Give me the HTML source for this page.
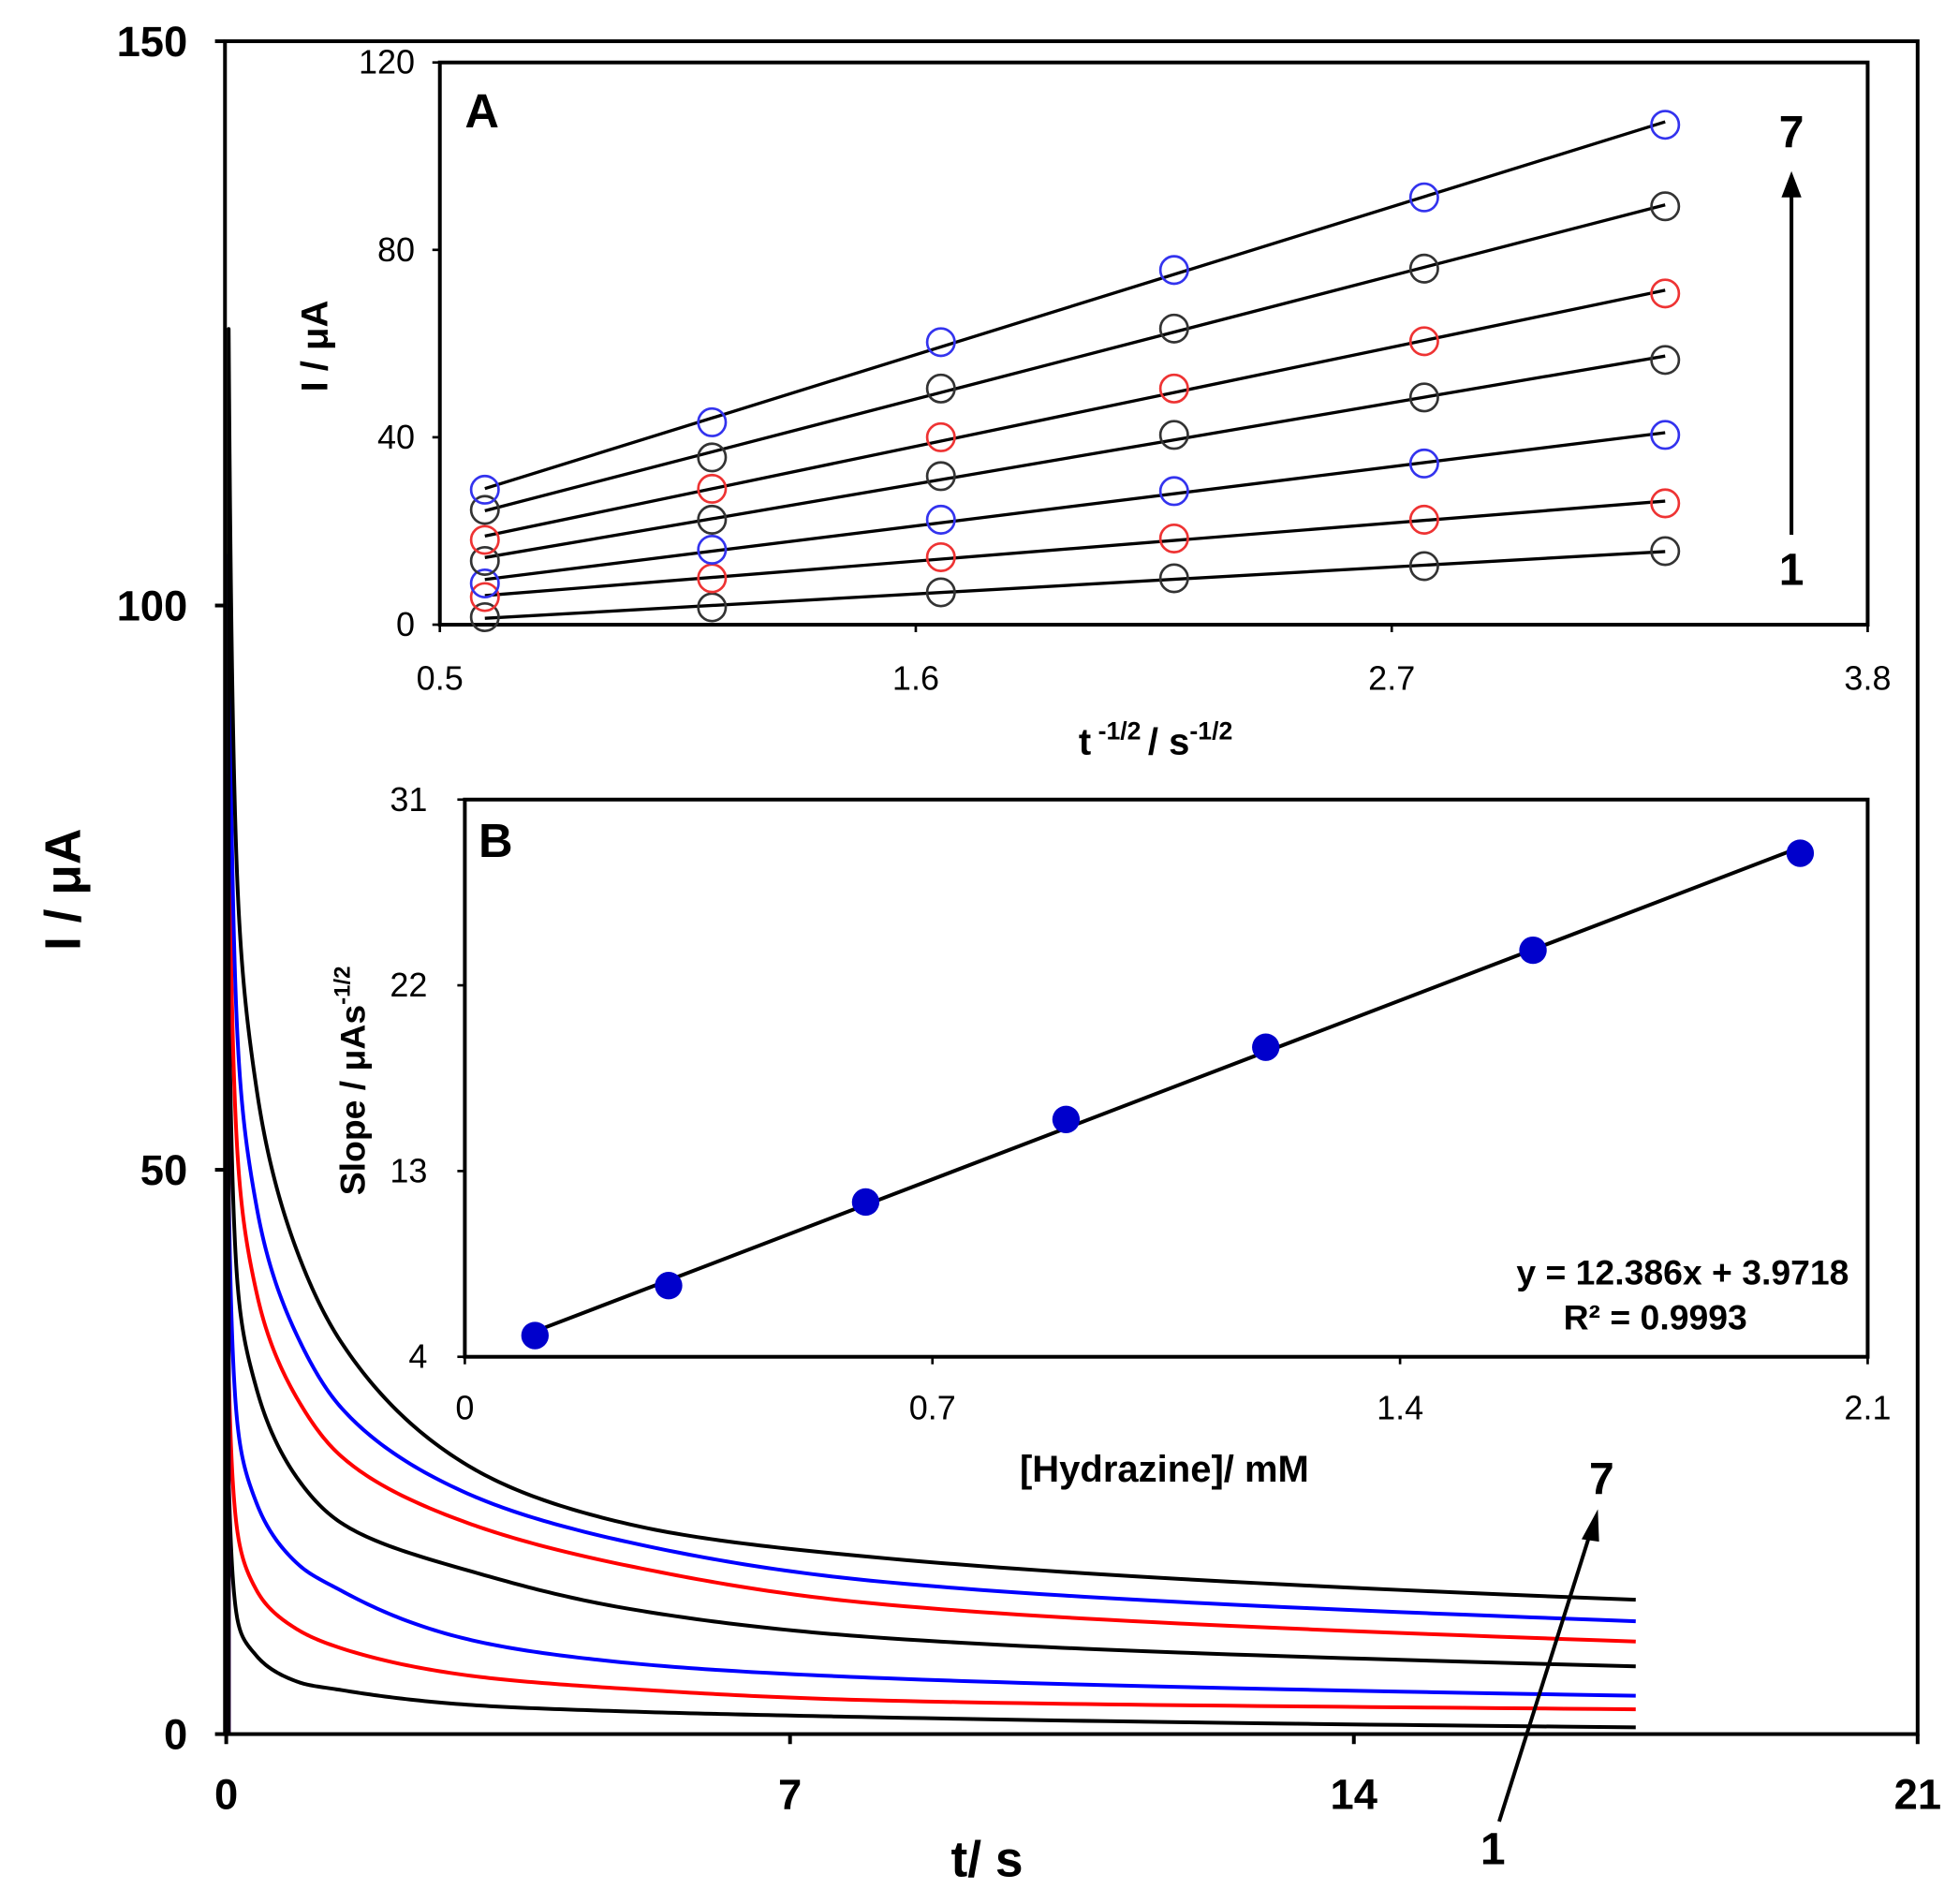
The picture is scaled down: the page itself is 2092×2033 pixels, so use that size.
<!DOCTYPE html>
<html><head><meta charset="utf-8"><style>
html,body{margin:0;padding:0;background:#fff;}
svg{display:block;font-family:"Liberation Sans",Arial,sans-serif;}
</style></head><body>
<svg id="chart" width="2092" height="2033" viewBox="0 0 1568 1524" xmlns="http://www.w3.org/2000/svg">
<rect width="1568" height="1524" fill="#fff"/>
<g id="main"></g>
<g id="insetA"></g>
<g id="insetB"></g>
</svg>
<script>
// ---- Main chart data ----
const mainTimes = [0.03,0.12,0.38,0.9,1.43,3,5,8,17.5];
const curve1 = [23,11,6.9,4.6,3.9,2.6,2.0,1.5,0.6];
const curve2 = [32.5,19,12.7,9.2,7.6,5.2,4.0,3.0,2.2];
const curve3 = [48.5,29,20.4,15,12.7,8.4,6.3,5.0,3.4];
const curve4 = [68,42,30.5,22.5,18.7,14.5,11.1,8.6,6];
const curve5 = [85,54,39,29.5,24.6,18.7,14.9,11.6,8.2];
const curve6 = [104.5,65,46.6,35,28.9,21.3,17,13.6,10];
const curve7 = [124.5,79,57,42.4,34.7,23.8,18.6,15.7,11.9];
const mainXTicks = [0,7,14,21];
const mainYTicks = [0,50,100,150];
// ---- Inset A data ----
const aX = [0.604,1.129,1.658,2.197,2.775,3.332];
const aS1 = [1.6,3.7,6.9,9.9,12.5,15.7];
const aS2 = [5.9,9.9,14.4,18.4,22.4,25.9];
const aS3 = [8.8,16,22.4,28.5,34.4,40.5];
const aS4 = [13.6,22.4,31.7,40.5,48.5,56.5];
const aS5 = [18.1,29,40,50.4,60.5,70.7];
const aS6 = [24.5,35.7,50.4,63.2,76,89.3];
const aS7 = [28.8,43.2,60.3,75.7,91.2,106.7];
const aXTicks = [0.5,1.6,2.7,3.8];
const aYTicks = [0,40,80,120];
// ---- Inset B data ----
const bX = [0.105,0.305,0.6,0.9,1.199,1.599,1.999];
const bY = [5.03,7.45,11.5,15.5,19,23.7,28.4];
const bXTicks = [0,0.7,1.4,2.1];
const bYTicks = [4,13,22,31];

const NS="http://www.w3.org/2000/svg";
function mk(parent,tag,attrs,text){const e=document.createElementNS(NS,tag);for(const k in attrs)e.setAttribute(k,attrs[k]);if(text!==undefined)e.textContent=text;parent.appendChild(e);return e;}
function fit(xs,ys){const n=xs.length;let sx=0,sy=0,sxx=0,sxy=0;for(let i=0;i<n;i++){sx+=xs[i];sy+=ys[i];sxx+=xs[i]*xs[i];sxy+=xs[i]*ys[i];}const m=(n*sxy-sx*sy)/(n*sxx-sx*sx);return [m,(sy-m*sx)/n];}
// Catmull-Rom interpolation in log(time) space, dense sampling
function densify(ts,vs){const L=ts.map(Math.log);const out=[];
  for(let i=0;i<L.length-1;i++){const i0=Math.max(0,i-1),i3=Math.min(L.length-1,i+2);
    const h=L[i+1]-L[i];
    const m1=(vs[i+1]-vs[i0])/(L[i+1]-L[i0])*h, m2=(vs[i3]-vs[i])/(L[i3]-L[i])*h;
    for(let s=0;s<30;s++){const u=s/30,u2=u*u,u3=u2*u;
      const v=(2*u3-3*u2+1)*vs[i]+(u3-2*u2+u)*m1+(-2*u3+3*u2)*vs[i+1]+(u3-u2)*m2;
      out.push([Math.exp(L[i]+u*h),v]);}}
  out.push([ts[ts.length-1],vs[vs.length-1]]);return out;}

// ===== Main =====
const M=document.getElementById('main');
const mx=v=>181+v*(1535-181)/21, my=v=>1388-v*(1388-33)/150;
const curves=[curve1,curve2,curve3,curve4,curve5,curve6,curve7];
const cols=["#000","#f00","#00f","#000","#f00","#00f","#000"];
curves.forEach((c,k)=>{
  const pts=densify(mainTimes,c);
  let d="M"+mx(mainTimes[0]).toFixed(2)+","+my(0).toFixed(2);
  pts.forEach(p=>{d+=" L"+mx(p[0]).toFixed(2)+","+my(p[1]).toFixed(2);});
  const p=mk(M,'path',{d:d,fill:'none',stroke:cols[k],'stroke-width':3,'stroke-linejoin':'round'});
  
  
});
const mf=mk(M,'rect',{x:180,y:33,width:1355,height:1355,fill:'none',stroke:'#000','stroke-width':3});

mainYTicks.forEach(v=>{mk(M,'line',{x1:172,x2:180,y1:my(v),y2:my(v),stroke:'#000','stroke-width':3});
  const t=mk(M,'text',{x:150,y:my(v)+12,'text-anchor':'end','font-size':34,'font-weight':'bold'},v);
  });
mainXTicks.forEach(v=>{mk(M,'line',{x1:mx(v),x2:mx(v),y1:1388,y2:1396,stroke:'#000','stroke-width':3});
  const t=mk(M,'text',{x:mx(v),y:1448,'text-anchor':'middle','font-size':34,'font-weight':'bold'},v);
  });
let tt=mk(M,'text',{x:790,y:1502,'text-anchor':'middle','font-size':40,'font-weight':'bold'},'t/ s');

tt=mk(M,'text',{x:0,y:0,transform:'translate(64,712) rotate(-90)','text-anchor':'middle','font-size':40,'font-weight':'bold'},'I / μA');

mk(M,'line',{x1:1200,y1:1458,x2:1272,y2:1230,stroke:'#000','stroke-width':3});
mk(M,'polygon',{points:'1279,1208 1266,1232 1280,1234',fill:'#000'});
tt=mk(M,'text',{x:1282,y:1196,'text-anchor':'middle','font-size':36,'font-weight':'bold'},'7');

tt=mk(M,'text',{x:1195,y:1492,'text-anchor':'middle','font-size':36,'font-weight':'bold'},'1');


// ===== Inset A =====
const A=document.getElementById('insetA');
const ax=v=>352+(v-0.5)*(1495-352)/3.3, ay=v=>500-v*(500-50)/120;
mk(A,'rect',{x:352,y:50,width:1143,height:450,fill:'#fff',stroke:'#000','stroke-width':3});
const aSeries=[aS1,aS2,aS3,aS4,aS5,aS6,aS7];
const aColors=["#333","#e33","#33e","#333","#e33","#333","#33e"];
aSeries.forEach((s,k)=>{
  const [m,b]=fit(aX,s);const x0=aX[0],x1=aX[aX.length-1];
  const l=mk(A,'line',{x1:ax(x0),y1:ay(m*x0+b),x2:ax(x1),y2:ay(m*x1+b),stroke:'#000','stroke-width':2.5});
  
  s.forEach((v,i)=>{const c=mk(A,'circle',{cx:ax(aX[i]),cy:ay(v),r:11,fill:'none',stroke:aColors[k],'stroke-width':2});
    });
});
aYTicks.forEach(v=>{mk(A,'line',{x1:346,x2:352,y1:ay(v),y2:ay(v),stroke:'#000','stroke-width':2});
  const t=mk(A,'text',{x:332,y:ay(v)+9,'text-anchor':'end','font-size':27},v);
  });
aXTicks.forEach(v=>{mk(A,'line',{x1:ax(v),x2:ax(v),y1:500,y2:506,stroke:'#000','stroke-width':2});
  const t=mk(A,'text',{x:ax(v),y:552,'text-anchor':'middle','font-size':27},v.toFixed(1));
  });
tt=mk(A,'text',{x:925,y:604,'text-anchor':'middle','font-size':30,'font-weight':'bold'});
tt.innerHTML='t<tspan font-size="20" dy="-12"> -1/2 </tspan><tspan dy="12">/ s</tspan><tspan font-size="20" dy="-12">-1/2</tspan>';

tt=mk(A,'text',{x:0,y:0,transform:'translate(262,277) rotate(-90)','text-anchor':'middle','font-size':30,'font-weight':'bold'},'I / μA');

tt=mk(A,'text',{x:372,y:102,'font-size':38,'font-weight':'bold'},'A');

mk(A,'line',{x1:1434,y1:428,x2:1434,y2:155,stroke:'#000','stroke-width':3});
mk(A,'polygon',{points:'1434,137 1426,158 1442,158',fill:'#000'});
tt=mk(A,'text',{x:1434,y:118,'text-anchor':'middle','font-size':36,'font-weight':'bold'},'7');

tt=mk(A,'text',{x:1434,y:468,'text-anchor':'middle','font-size':36,'font-weight':'bold'},'1');


// ===== Inset B =====
const B=document.getElementById('insetB');
const bx=v=>372+v*(1495-372)/2.1, by=v=>1086-(v-4)*(1086-640)/27;
mk(B,'rect',{x:372,y:640,width:1123,height:446,fill:'#fff',stroke:'#000','stroke-width':3});
const [bm,bb]=fit(bX,bY);
let bl=mk(B,'line',{x1:bx(bX[0]),y1:by(bm*bX[0]+bb),x2:bx(bX[bX.length-1]),y2:by(bm*bX[bX.length-1]+bb),stroke:'#000','stroke-width':3});

bX.forEach((x,i)=>{const c=mk(B,'circle',{cx:bx(x),cy:by(bY[i]),r:11,fill:'#0000cc'});
  });
bYTicks.forEach(v=>{mk(B,'line',{x1:366,x2:372,y1:by(v),y2:by(v),stroke:'#000','stroke-width':2});
  const t=mk(B,'text',{x:342,y:by(v)+9,'text-anchor':'end','font-size':27},v);
  });
bXTicks.forEach(v=>{mk(B,'line',{x1:bx(v),x2:bx(v),y1:1086,y2:1092,stroke:'#000','stroke-width':2});
  const t=mk(B,'text',{x:bx(v),y:1136,'text-anchor':'middle','font-size':27},v===0?'0':v.toFixed(1));
  });
tt=mk(B,'text',{x:932,y:1186,'text-anchor':'middle','font-size':30,'font-weight':'bold'},'[Hydrazine]/ mM');

tt=mk(B,'text',{x:0,y:0,transform:'translate(292,865) rotate(-90)','text-anchor':'middle','font-size':28,'font-weight':'bold'});
tt.innerHTML='Slope / μAs<tspan font-size="18" dy="-12">-1/2</tspan>';

tt=mk(B,'text',{x:383,y:686,'font-size':38,'font-weight':'bold'},'B');

tt=mk(B,'text',{x:1480,y:1028,'text-anchor':'end','font-size':28,'font-weight':'bold'},'y = 12.386x  + 3.9718');

tt=mk(B,'text',{x:1325,y:1064,'text-anchor':'middle','font-size':28,'font-weight':'bold'},'R² = 0.9993');

</script>
</body></html>
